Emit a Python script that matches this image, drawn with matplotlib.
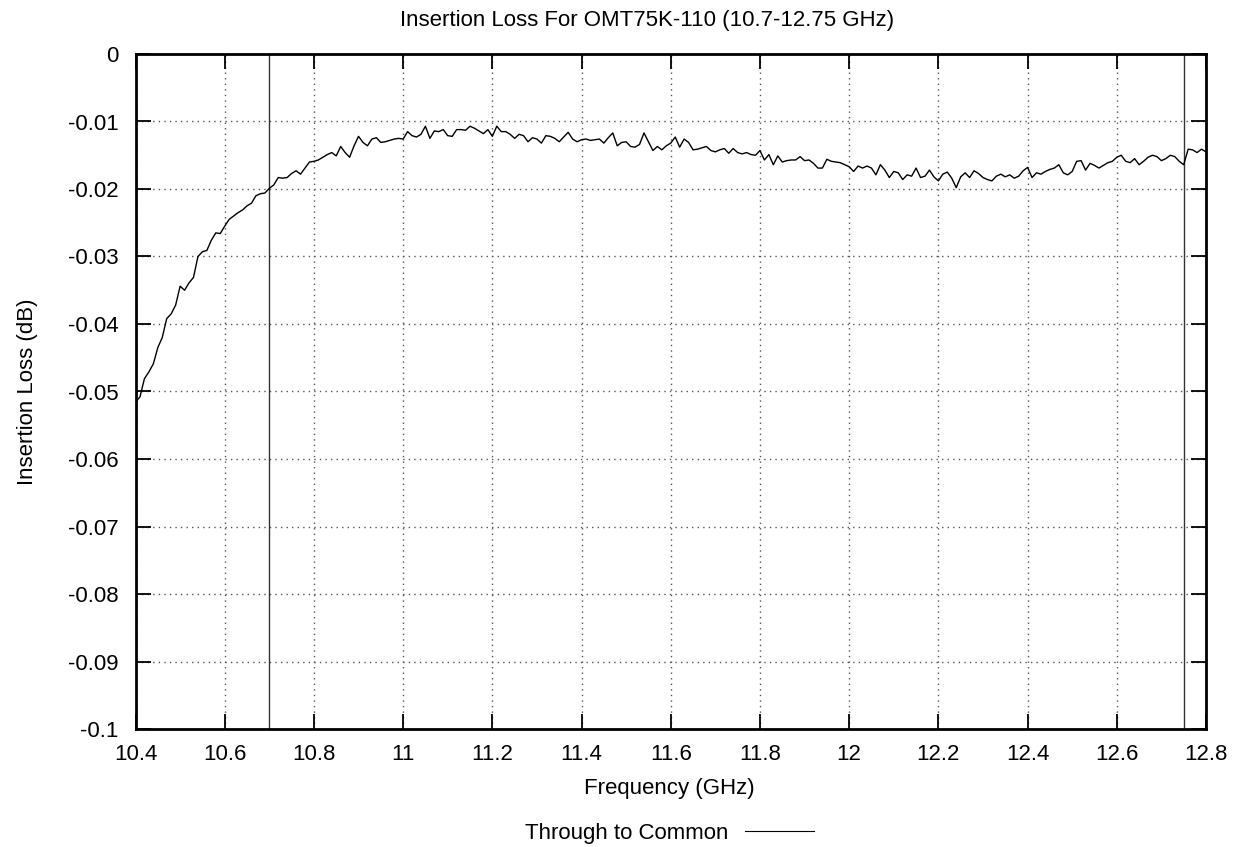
import numpy as np
import matplotlib
matplotlib.use("Agg")
import matplotlib.pyplot as plt
from matplotlib.lines import Line2D

plt.rcParams['font.family'] = ['Liberation Sans', 'DejaVu Sans']

title = "Insertion Loss For OMT75K-110 (10.7-12.75 GHz)"
xlabel = "Frequency (GHz)"
ylabel = "Insertion Loss (dB)"
series_name = "Through to Common"
band_edges = [10.7, 12.75]

freq_start = 10.40
freq_step = 0.01
loss = [
    -0.0516, -0.0508, -0.0481, -0.0471, -0.0459, -0.0435, -0.0420, -0.0392, -0.0385, -0.0372,
    -0.0344, -0.0350, -0.0339, -0.0331, -0.0300, -0.0293, -0.0291, -0.0276, -0.0265, -0.0266,
    -0.0255, -0.0245, -0.0240, -0.0235, -0.0231, -0.0225, -0.0221, -0.0210, -0.0207, -0.0206,
    -0.0199, -0.0194, -0.0183, -0.0184, -0.0183, -0.0177, -0.0173, -0.0178, -0.0169, -0.0160,
    -0.0159, -0.0157, -0.0153, -0.0149, -0.0146, -0.0151, -0.0137, -0.0146, -0.0153, -0.0136,
    -0.0122, -0.0131, -0.0136, -0.0126, -0.0124, -0.0131, -0.0130, -0.0128, -0.0126, -0.0125,
    -0.0126, -0.0115, -0.0121, -0.0123, -0.0119, -0.0107, -0.0125, -0.0114, -0.0115, -0.0112,
    -0.0121, -0.0122, -0.0112, -0.0112, -0.0113, -0.0107, -0.0110, -0.0114, -0.0118, -0.0112,
    -0.0122, -0.0107, -0.0115, -0.0115, -0.0119, -0.0125, -0.0119, -0.0121, -0.0130, -0.0124,
    -0.0126, -0.0132, -0.0121, -0.0122, -0.0125, -0.0130, -0.0123, -0.0116, -0.0126, -0.0130,
    -0.0127, -0.0126, -0.0128, -0.0127, -0.0126, -0.0132, -0.0124, -0.0117, -0.0136, -0.0131,
    -0.0130, -0.0137, -0.0138, -0.0134, -0.0117, -0.0130, -0.0143, -0.0137, -0.0142, -0.0136,
    -0.0132, -0.0123, -0.0138, -0.0126, -0.0131, -0.0142, -0.0141, -0.0139, -0.0137, -0.0143,
    -0.0145, -0.0142, -0.0140, -0.0147, -0.0140, -0.0146, -0.0148, -0.0146, -0.0149, -0.0150,
    -0.0143, -0.0157, -0.0149, -0.0164, -0.0151, -0.0160, -0.0158, -0.0157, -0.0157, -0.0152,
    -0.0158, -0.0157, -0.0162, -0.0169, -0.0169, -0.0156, -0.0159, -0.0160, -0.0161, -0.0164,
    -0.0167, -0.0174, -0.0166, -0.0169, -0.0166, -0.0169, -0.0179, -0.0164, -0.0172, -0.0183,
    -0.0174, -0.0176, -0.0186, -0.0179, -0.0181, -0.0169, -0.0183, -0.0181, -0.0172, -0.0182,
    -0.0188, -0.0178, -0.0175, -0.0184, -0.0198, -0.0182, -0.0176, -0.0183, -0.0173, -0.0177,
    -0.0183, -0.0186, -0.0188, -0.0181, -0.0178, -0.0182, -0.0179, -0.0184, -0.0181, -0.0173,
    -0.0168, -0.0183, -0.0176, -0.0178, -0.0174, -0.0171, -0.0169, -0.0164, -0.0176, -0.0179,
    -0.0174, -0.0159, -0.0158, -0.0172, -0.0162, -0.0165, -0.0169, -0.0165, -0.0161, -0.0159,
    -0.0153, -0.0150, -0.0159, -0.0161, -0.0155, -0.0164, -0.0159, -0.0153, -0.0150, -0.0152,
    -0.0158, -0.0155, -0.0150, -0.0152, -0.0159, -0.0164, -0.0141, -0.0142, -0.0146, -0.0141,
    -0.0145,
]
freq = np.round(freq_start + freq_step * np.arange(len(loss)), 2)

xticks = [10.4, 10.6, 10.8, 11.0, 11.2, 11.4, 11.6, 11.8, 12.0, 12.2, 12.4, 12.6, 12.8]
xtick_labels = ["10.4", "10.6", "10.8", "11", "11.2", "11.4", "11.6", "11.8", "12", "12.2", "12.4", "12.6", "12.8"]
yticks = [0, -0.01, -0.02, -0.03, -0.04, -0.05, -0.06, -0.07, -0.08, -0.09, -0.1]
ytick_labels = ["0", "-0.01", "-0.02", "-0.03", "-0.04", "-0.05", "-0.06", "-0.07", "-0.08", "-0.09", "-0.1"]

W, H = 1241, 847
FS = 16
fig = plt.figure(figsize=(W / 100, H / 100), dpi=100)
ax = fig.add_axes([135.5 / W, 1 - 729 / H, (1206 - 135.5) / W, (729 - 54) / H])

ax.plot(freq, loss, color='black', lw=1.0, zorder=3)
for e in band_edges:
    ax.axvline(e, color='#333333', lw=1.0, zorder=2)

ax.set_xlim(10.4, 12.8)
ax.set_ylim(-0.1, 0)
ax.set_xticks(xticks)
ax.set_xticklabels(xtick_labels)
ax.set_yticks(yticks)
ax.set_yticklabels(ytick_labels)
ax.grid(True, color='#555555', linestyle=(0, (1, 3)), lw=1.0)
ax.tick_params(direction='in', length=11, width=1.3, top=True, right=True, labelsize=FS)
ax.tick_params(axis='x', pad=11)
ax.tick_params(axis='y', pad=12)
for s in ax.spines.values():
    s.set_linewidth(2.0)

ax.set_title(title, fontsize=FS, pad=20, x=(647 - 135.5) / (1206 - 135.5))
ax.set_xlabel(xlabel, fontsize=FS)
ax.xaxis.set_label_coords((669 - 135.5) / (1206 - 135.5), -(778 - 729) / (729 - 54))
ax.set_ylabel(ylabel, fontsize=FS)
ax.yaxis.set_label_coords(-(135.5 - 38) / (1206 - 135.5), 0.5)

handle = Line2D([0], [0], color='black', lw=0.8)
fig.legend([handle], [series_name], loc='center left', bbox_to_anchor=(525 / W, 1 - 833 / H),
           frameon=False, fontsize=FS, markerfirst=False, handlelength=3.1,
           handletextpad=0.75, borderpad=0, borderaxespad=0)

fig.savefig('out.png', dpi=100)
